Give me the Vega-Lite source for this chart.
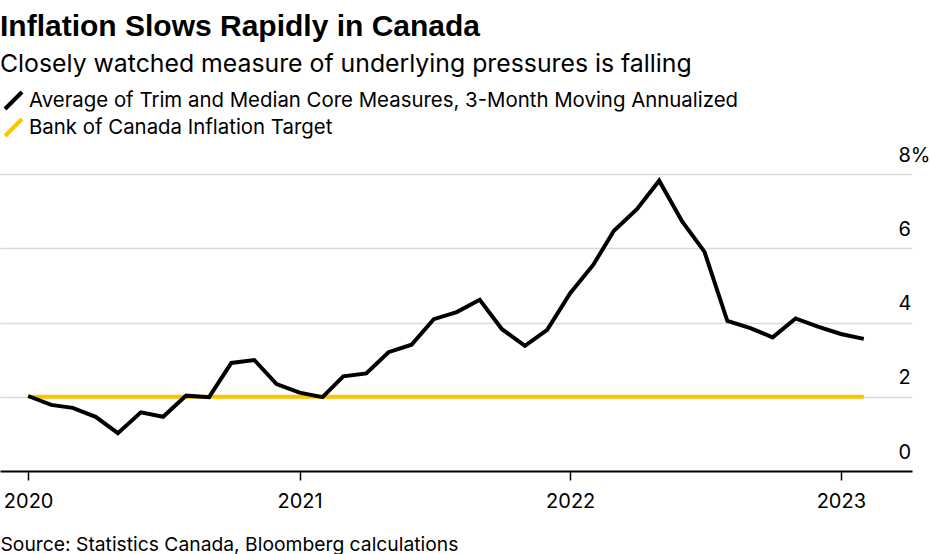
{
  "$schema": "https://vega.github.io/schema/vega-lite/v6.json",
  "autosize": {"type": "none"},
  "width": 912,
  "height": 297,
  "padding": {"left": 0, "top": 174, "right": 18, "bottom": 83},
  "background": "white",
  "title": {
    "text": "Inflation Slows Rapidly in Canada",
    "subtitle": "Closely watched measure of underlying pressures is falling",
    "anchor": "start",
    "frame": "group",
    "font": "Liberation Sans",
    "fontSize": 30,
    "fontWeight": "bold",
    "color": "#000000",
    "subtitleFont": "Inter",
    "subtitleFontSize": 24.8,
    "subtitleColor": "#000000",
    "subtitlePadding": 10,
    "offset": 13
  },
  "config": {
    "view": {"stroke": null},
    "axis": {"labelFont": "Inter", "titleFont": "Inter"}
  },
  "datasets": {
    "core": [
      {"date": "2020-01-01", "value": 2.02, "series": "Average of Trim and Median Core Measures, 3-Month Moving Annualized"},
      {"date": "2020-02-01", "value": 1.78, "series": "Average of Trim and Median Core Measures, 3-Month Moving Annualized"},
      {"date": "2020-03-01", "value": 1.70, "series": "Average of Trim and Median Core Measures, 3-Month Moving Annualized"},
      {"date": "2020-04-01", "value": 1.46, "series": "Average of Trim and Median Core Measures, 3-Month Moving Annualized"},
      {"date": "2020-05-01", "value": 1.02, "series": "Average of Trim and Median Core Measures, 3-Month Moving Annualized"},
      {"date": "2020-06-01", "value": 1.58, "series": "Average of Trim and Median Core Measures, 3-Month Moving Annualized"},
      {"date": "2020-07-01", "value": 1.46, "series": "Average of Trim and Median Core Measures, 3-Month Moving Annualized"},
      {"date": "2020-08-01", "value": 2.03, "series": "Average of Trim and Median Core Measures, 3-Month Moving Annualized"},
      {"date": "2020-09-01", "value": 1.99, "series": "Average of Trim and Median Core Measures, 3-Month Moving Annualized"},
      {"date": "2020-10-01", "value": 2.91, "series": "Average of Trim and Median Core Measures, 3-Month Moving Annualized"},
      {"date": "2020-11-01", "value": 2.99, "series": "Average of Trim and Median Core Measures, 3-Month Moving Annualized"},
      {"date": "2020-12-01", "value": 2.34, "series": "Average of Trim and Median Core Measures, 3-Month Moving Annualized"},
      {"date": "2021-01-01", "value": 2.11, "series": "Average of Trim and Median Core Measures, 3-Month Moving Annualized"},
      {"date": "2021-02-01", "value": 1.99, "series": "Average of Trim and Median Core Measures, 3-Month Moving Annualized"},
      {"date": "2021-03-01", "value": 2.55, "series": "Average of Trim and Median Core Measures, 3-Month Moving Annualized"},
      {"date": "2021-04-01", "value": 2.63, "series": "Average of Trim and Median Core Measures, 3-Month Moving Annualized"},
      {"date": "2021-05-01", "value": 3.20, "series": "Average of Trim and Median Core Measures, 3-Month Moving Annualized"},
      {"date": "2021-06-01", "value": 3.40, "series": "Average of Trim and Median Core Measures, 3-Month Moving Annualized"},
      {"date": "2021-07-01", "value": 4.09, "series": "Average of Trim and Median Core Measures, 3-Month Moving Annualized"},
      {"date": "2021-08-01", "value": 4.28, "series": "Average of Trim and Median Core Measures, 3-Month Moving Annualized"},
      {"date": "2021-09-01", "value": 4.61, "series": "Average of Trim and Median Core Measures, 3-Month Moving Annualized"},
      {"date": "2021-10-01", "value": 3.82, "series": "Average of Trim and Median Core Measures, 3-Month Moving Annualized"},
      {"date": "2021-11-01", "value": 3.37, "series": "Average of Trim and Median Core Measures, 3-Month Moving Annualized"},
      {"date": "2021-12-01", "value": 3.80, "series": "Average of Trim and Median Core Measures, 3-Month Moving Annualized"},
      {"date": "2022-01-01", "value": 4.79, "series": "Average of Trim and Median Core Measures, 3-Month Moving Annualized"},
      {"date": "2022-02-01", "value": 5.55, "series": "Average of Trim and Median Core Measures, 3-Month Moving Annualized"},
      {"date": "2022-03-01", "value": 6.47, "series": "Average of Trim and Median Core Measures, 3-Month Moving Annualized"},
      {"date": "2022-04-01", "value": 7.05, "series": "Average of Trim and Median Core Measures, 3-Month Moving Annualized"},
      {"date": "2022-05-01", "value": 7.82, "series": "Average of Trim and Median Core Measures, 3-Month Moving Annualized"},
      {"date": "2022-06-01", "value": 6.72, "series": "Average of Trim and Median Core Measures, 3-Month Moving Annualized"},
      {"date": "2022-07-01", "value": 5.91, "series": "Average of Trim and Median Core Measures, 3-Month Moving Annualized"},
      {"date": "2022-08-01", "value": 4.04, "series": "Average of Trim and Median Core Measures, 3-Month Moving Annualized"},
      {"date": "2022-09-01", "value": 3.85, "series": "Average of Trim and Median Core Measures, 3-Month Moving Annualized"},
      {"date": "2022-10-01", "value": 3.60, "series": "Average of Trim and Median Core Measures, 3-Month Moving Annualized"},
      {"date": "2022-11-01", "value": 4.11, "series": "Average of Trim and Median Core Measures, 3-Month Moving Annualized"},
      {"date": "2022-12-01", "value": 3.89, "series": "Average of Trim and Median Core Measures, 3-Month Moving Annualized"},
      {"date": "2023-01-01", "value": 3.69, "series": "Average of Trim and Median Core Measures, 3-Month Moving Annualized"},
      {"date": "2023-02-01", "value": 3.56, "series": "Average of Trim and Median Core Measures, 3-Month Moving Annualized"}
    ],
    "target": [
      {"date": "2020-01-01", "value": 2, "series": "Bank of Canada Inflation Target"},
      {"date": "2023-02-01", "value": 2, "series": "Bank of Canada Inflation Target"}
    ]
  },
  "encoding": {
    "x": {
      "field": "date",
      "type": "temporal",
      "scale": {
        "type": "utc",
        "domain": [
          {"year": 2019, "month": 11, "date": 24, "utc": true},
          {"year": 2023, "month": 4, "date": 7, "utc": true}
        ]
      },
      "axis": {
        "title": "Source: Statistics Canada, Bloomberg calculations",
        "titleAnchor": "start",
        "titleAlign": "left",
        "titleX": 0,
        "titleY": 79,
        "titleBaseline": "alphabetic",
        "titleFontSize": 19.3,
        "titleFontWeight": "normal",
        "titleColor": "#000000",
        "values": [
          {"year": 2020, "month": 1, "date": 1, "utc": true},
          {"year": 2021, "month": 1, "date": 1, "utc": true},
          {"year": 2022, "month": 1, "date": 1, "utc": true},
          {"year": 2023, "month": 1, "date": 1, "utc": true}
        ],
        "format": "%Y",
        "grid": false,
        "domainColor": "#000000",
        "domainWidth": 2,
        "tickColor": "#000000",
        "tickWidth": 1.5,
        "tickSize": 9,
        "labelFontSize": 20,
        "labelColor": "#000000",
        "labelBaseline": "alphabetic",
        "labelPadding": 27,
        "labelFlush": false,
        "labelOverlap": false
      }
    },
    "y": {
      "field": "value",
      "type": "quantitative",
      "scale": {"domain": [0, 8], "nice": false},
      "axis": {
        "orient": "right",
        "title": null,
        "values": [0, 2, 4, 6, 8],
        "labelExpr": "datum.value == 8 ? '8%' : datum.label",
        "domain": false,
        "ticks": false,
        "tickSize": 0,
        "grid": true,
        "gridColor": "#dadada",
        "gridWidth": 1.5,
        "labelAlign": "left",
        "labelPadding": -14,
        "labelBaseline": "alphabetic",
        "labelOffset": -13,
        "labelFontSize": 20,
        "labelColor": "#000000",
        "labelFlush": false,
        "labelOverlap": false
      }
    },
    "color": {
      "field": "series",
      "type": "nominal",
      "scale": {
        "domain": ["Average of Trim and Median Core Measures, 3-Month Moving Annualized", "Bank of Canada Inflation Target"],
        "range": ["#000000", "#fdc300"]
      },
      "legend": {
        "orient": "none",
        "legendX": 3,
        "legendY": -84,
        "title": null,
        "padding": 0,
        "labelFont": "Inter",
        "labelFontSize": 20.4,
        "labelColor": "#000000",
        "labelOffset": 5,
        "labelLimit": 900,
        "rowPadding": -6,
        "symbolType": "M-1,1L1,-1",
        "symbolSize": 289,
        "symbolStrokeWidth": 4
      }
    }
  },
  "layer": [
    {"data": {"name": "target"}, "mark": {"type": "line", "strokeWidth": 4, "strokeCap": "butt"}},
    {"data": {"name": "core"}, "mark": {"type": "line", "strokeWidth": 4, "strokeCap": "butt"}}
  ]
}
